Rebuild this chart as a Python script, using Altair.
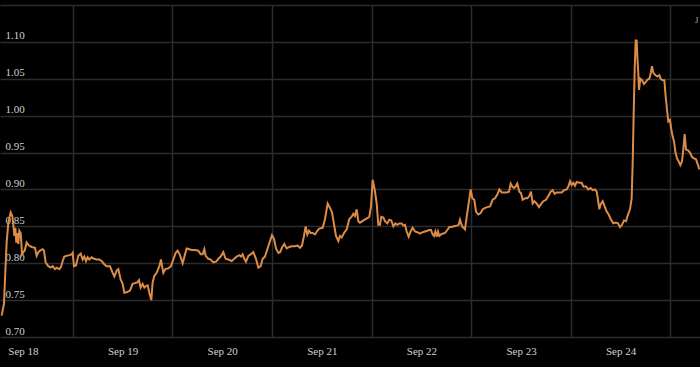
import altair as alt
import pandas as pd

# hours since 2024-09-18 00:00 UTC, and the rate read at each point
hours = [
    -5.14, -4.58, -4.34, -3.94, -3.53, -2.97, -2.57, -2.33, -2.09, -1.85,
    -1.61, -1.37, -1.12, -0.88, -0.56, -0.40, -0.24, 0.08, 0.40, 0.88,
    1.45, 2.09, 2.89, 3.29, 3.70, 4.10, 4.74, 5.06, 5.46, 6.10,
    6.67, 7.15, 7.71, 8.11, 8.76, 9.16, 9.56, 9.96, 10.52, 11.17,
    11.73, 11.97, 12.29, 12.77, 13.33, 13.90, 14.38, 14.78, 15.18, 15.58,
    15.98, 16.55, 17.11, 17.75, 18.39, 18.96, 19.52, 20.16, 20.96, 21.61,
    22.01, 22.57, 22.97, 23.53, 24.02, 24.42, 25.14, 25.78, 26.43, 26.99,
    27.55, 27.95, 28.35, 28.83, 29.24, 29.64, 30.04, 30.44, 30.92, 31.24,
    31.65, 32.21, 32.85, 33.25, 33.57, 33.82, 34.30, 35.02, 35.66, 36.22,
    36.79, 37.27, 37.83, 38.47, 39.04, 39.44, 40.08, 40.64, 41.45, 42.25,
    42.81, 43.29, 43.69, 44.02, 44.66, 45.22, 45.86, 46.51, 47.07, 47.63,
    48.27, 48.83, 49.48, 50.28, 50.92, 51.49, 52.13, 52.53, 52.93, 53.33,
    53.73, 54.30, 54.86, 55.50, 56.14, 56.71, 57.27, 57.75, 58.31, 58.88,
    59.52, 60.00, 60.48, 60.96, 61.53, 61.93, 62.49, 62.97, 63.53, 64.18,
    64.74, 65.54, 66.18, 66.75, 67.23, 67.71, 68.11, 68.51, 68.91, 69.32,
    69.80, 70.36, 70.92, 71.40, 72.21, 72.77, 73.41, 73.97, 74.46, 74.94,
    75.42, 75.98, 76.38, 76.79, 77.35, 77.99, 78.63,
    79.20, 79.60, 80.00, 80.40, 80.80, 81.20, 81.77, 82.33, 82.97, 83.45,
    83.85, 84.26, 84.74, 85.22, 85.62, 86.02, 86.34, 86.83, 87.23, 87.79,
    88.27, 88.75, 89.24, 89.72, 90.20, 90.68, 91.24, 91.65, 92.05, 92.45,
    92.93, 93.41, 93.89, 94.46, 95.02, 95.66, 96.30, 96.87, 97.43, 97.91,
    98.31, 98.71, 99.03, 99.36, 99.68, 100.00, 100.32, 100.72, 101.12, 101.69,
    102.25, 102.73, 103.29, 103.85, 104.50, 104.98, 105.30, 105.78, 106.50, 106.91,
    107.39, 107.87, 108.27, 108.75, 109.15, 109.72, 110.28, 110.76, 111.32, 111.89,
    112.53, 113.17, 113.73, 114.30, 114.78, 115.34, 115.90, 116.54, 117.11, 117.51,
    117.91, 118.31, 118.71, 119.11, 119.60, 120.00, 120.40, 120.96, 121.52, 122.01,
    122.41, 122.81, 123.21, 123.77, 124.33, 124.82, 125.38, 126.02, 126.58, 127.15,
    127.63, 128.11, 128.59, 129.23, 129.80, 130.36, 131.00, 131.40, 131.81, 132.21,
    132.61, 133.01, 133.41, 134.05, 134.62, 135.02, 135.66, 136.22, 136.79, 137.27,
    137.83, 138.23, 138.55, 138.87, 139.20, 139.68, 140.16, 140.64, 141.12, 141.60,
    142.25, 142.81, 143.37, 143.85, 144.33, 144.82, 145.30, 145.78, 146.26, 146.66,
    146.91, 147.15, 147.39, 147.63, 147.87, 148.03, 148.27, 148.43, 148.75, 149.15,
    149.64, 150.12, 150.52, 150.92, 151.24, 151.56, 151.89, 152.37, 152.85, 153.33,
    153.65, 154.13, 154.54, 154.86, 155.18, 155.50, 155.90, 156.22, 156.54, 156.87,
    157.19, 157.59, 157.99, 158.39, 158.79, 159.11, 159.43, 159.76, 160.24, 160.72,
    161.20, 161.68, 162.16, 162.65, 162.97,
]

rate = [
    0.729, 0.745, 0.778, 0.828, 0.855, 0.869, 0.864, 0.853, 0.837, 0.848,
    0.828, 0.841, 0.826, 0.844, 0.841, 0.828, 0.812, 0.815, 0.817, 0.828,
    0.824, 0.822, 0.821, 0.810, 0.815, 0.817, 0.819, 0.817, 0.801, 0.796,
    0.794, 0.796, 0.792, 0.794, 0.792, 0.795, 0.803, 0.809, 0.810, 0.811,
    0.812, 0.814, 0.796, 0.797, 0.810, 0.813, 0.805, 0.809, 0.803, 0.808,
    0.805, 0.808, 0.806, 0.805, 0.805, 0.803, 0.799, 0.796, 0.796, 0.787,
    0.782, 0.790, 0.792, 0.778, 0.772, 0.760, 0.761, 0.763, 0.772, 0.773,
    0.774, 0.777, 0.767, 0.772, 0.767, 0.769, 0.770, 0.760, 0.750, 0.774,
    0.783, 0.787, 0.796, 0.805, 0.794, 0.787, 0.792, 0.793, 0.796, 0.805,
    0.814, 0.817, 0.811, 0.800, 0.812, 0.820, 0.819, 0.818, 0.818, 0.817,
    0.812, 0.812, 0.819, 0.810, 0.806, 0.805, 0.801, 0.802, 0.806, 0.809,
    0.815, 0.806, 0.805, 0.803, 0.806, 0.809, 0.811, 0.809, 0.812, 0.806,
    0.802, 0.810, 0.812, 0.815, 0.806, 0.794, 0.796, 0.806, 0.809, 0.819,
    0.830, 0.838, 0.833, 0.820, 0.814, 0.815, 0.822, 0.826, 0.820, 0.822,
    0.823, 0.823, 0.824, 0.821, 0.824, 0.837, 0.850, 0.839, 0.844, 0.841,
    0.841, 0.839, 0.844, 0.847, 0.848, 0.860, 0.881, 0.875, 0.869, 0.853,
    0.837, 0.830, 0.837, 0.835, 0.841, 0.846, 0.860,
    0.863, 0.867, 0.864, 0.873, 0.857, 0.855, 0.857, 0.859, 0.861, 0.863,
    0.877, 0.913, 0.900, 0.881, 0.852, 0.852, 0.863, 0.862, 0.857, 0.854,
    0.859, 0.858, 0.850, 0.854, 0.852, 0.854, 0.854, 0.851, 0.852, 0.843,
    0.836, 0.843, 0.848, 0.843, 0.842, 0.840, 0.842, 0.843, 0.844, 0.845,
    0.845, 0.839, 0.837, 0.843, 0.836, 0.843, 0.837, 0.839, 0.840, 0.841,
    0.845, 0.849, 0.849, 0.850, 0.851, 0.852, 0.859, 0.850, 0.846, 0.863,
    0.881, 0.900, 0.888, 0.886, 0.870, 0.866, 0.868, 0.873, 0.875, 0.876,
    0.877, 0.886, 0.888, 0.893, 0.900, 0.896, 0.896, 0.896, 0.897, 0.908,
    0.904, 0.902, 0.904, 0.908, 0.897, 0.895, 0.886, 0.888, 0.888, 0.891,
    0.897, 0.881, 0.884, 0.881, 0.876, 0.880, 0.884, 0.886, 0.891, 0.897,
    0.899, 0.894, 0.896, 0.896, 0.896, 0.899, 0.900, 0.904, 0.911, 0.906,
    0.909, 0.905, 0.910, 0.909, 0.909, 0.904, 0.904, 0.900, 0.902, 0.899,
    0.900, 0.897, 0.886, 0.873, 0.880, 0.884, 0.877, 0.870, 0.866, 0.860,
    0.854, 0.855, 0.854, 0.849, 0.852, 0.858, 0.857, 0.866, 0.873, 0.888,
    0.936, 1.003, 1.062, 1.102, 1.102, 1.080, 1.057, 1.035, 1.050, 1.048,
    1.043, 1.046, 1.049, 1.050, 1.057, 1.067, 1.058, 1.055, 1.053, 1.055,
    1.050, 1.048, 1.048, 1.026, 1.008, 0.992, 0.994, 0.981, 0.972, 0.965,
    0.951, 0.942, 0.938, 0.933, 0.938, 0.954, 0.975, 0.954, 0.953, 0.950,
    0.944, 0.942, 0.941, 0.933, 0.927,
]

assert len(hours) == len(rate), (len(hours), len(rate))

y_ticks = [0.70, 0.75, 0.80, 0.85, 0.90, 0.95, 1.00, 1.05, 1.10, 1.15]
label_days = [18, 19, 20, 21, 22, 23, 24]
corner_text = ["J"]

domain_hours = [-5.54, 163.13]

W, H = 700, 332
FONT = "Liberation Serif"
TEXT = "#d0d0d0"
GRID = "#2c2c2c"
LINE = "#dc8c48"

base_ms = int(pd.Timestamp("2024-09-18T00:00:00Z").value // 10**6)
df = pd.DataFrame({
    "t": [base_ms + h * 3600000 for h in hours],
    "rate": rate,
})
x_domain = [base_ms + h * 3600000 for h in domain_hours]
half_day_px = W * 12 / (domain_hours[1] - domain_hours[0])

x_enc = alt.X(
    "t:T",
    scale=alt.Scale(type="utc", domain=x_domain),
    axis=alt.Axis(
        values=[alt.DateTime(year=2024, month=9, date=d, utc=True) for d in label_days],
        format="%b %d",
        title=None,
        domain=False,
        ticks=False,
        tickSize=0,
        labelPadding=8,
        labelFlush=False,
        labelOverlap=False,
        tickOffset=half_day_px,
        labelOffset=-half_day_px,
        grid=True,
        gridColor=GRID,
        gridWidth=1.5,
        labelColor=TEXT,
        labelFont=FONT,
        labelFontSize=11,
    ),
)

y_enc = alt.Y(
    "rate:Q",
    scale=alt.Scale(domain=[0.70, 1.15], nice=False, zero=False),
    axis=alt.Axis(
        values=y_ticks,
        labelExpr="datum.value > 1.12 ? '' : format(datum.value, '.2f')",
        title=None,
        domain=False,
        ticks=False,
        tickSize=0,
        orient="left",
        labelAlign="left",
        labelBaseline="alphabetic",
        labelPadding=-5,
        labelOffset=-3,
        labelFlush=False,
        labelOverlap=False,
        grid=True,
        gridColor=GRID,
        gridWidth=1.5,
        labelColor=TEXT,
        labelFont=FONT,
        labelFontSize=11,
    ),
)

line = alt.Chart(df).mark_line(color=LINE, strokeWidth=2, interpolate="linear").encode(
    x=x_enc, y=y_enc
)

corner = alt.Chart(pd.DataFrame({"label": corner_text})).mark_text(
    align="left", baseline="alphabetic", font=FONT, fontSize=8.5, color="#aaaaaa"
).encode(x=alt.value(695), y=alt.value(18), text="label:N")

chart = (
    alt.layer(line, corner)
    .properties(
        width=W,
        height=H,
        background="#000000",
        autosize=alt.AutoSizeParams(type="none"),
        padding={"left": 0, "right": 0, "top": 5, "bottom": 30},
    )
    .configure_view(strokeWidth=0)
)

chart.save("out.html", embed_options={"renderer": "svg", "actions": False})
